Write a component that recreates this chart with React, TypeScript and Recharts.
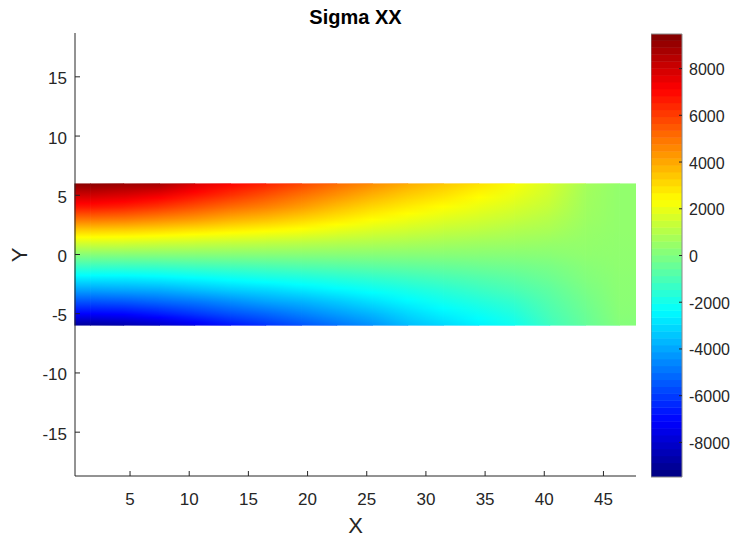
import React from 'react';
import { ScatterChart, Scatter, XAxis, YAxis, ReferenceArea } from 'recharts';

// axis ticks
const xTicks = [5, 10, 15, 20, 25, 30, 35, 40, 45];
const yTicks = [-15, -10, -5, 0, 5, 10, 15];
const cbarTicks = [-8000, -6000, -4000, -2000, 0, 2000, 4000, 6000, 8000];

// beam mesh: column edges along x, sample levels through the depth (top -> bottom)
const colEdges = [0.35, 3, 6, 9, 12, 15, 18, 21, 24, 27, 30, 33, 36, 39, 42, 45, 47.75];
const yLevels = [6, 5, 4, 3, 2, 1, 0, -1, -2, -3, -4, -5, -6];

// sigma xx, one array per column (top of beam first)
const sxxX1_5 = [9300, 8000, 6700, 5000, 3200, 1650, 150, -1300, -2700, -4100, -5600, -7100, -9000];
const sxxX4_5 = [9000, 7800, 6500, 4900, 3150, 1600, 150, -1300, -2700, -4000, -5500, -7000, -8700];
const sxxX7_5 = [8800, 7400, 6100, 4600, 3000, 1500, 150, -1250, -2600, -3900, -5200, -6600, -8200];
const sxxX10_5 = [7800, 6800, 5600, 4300, 2800, 1400, 150, -1150, -2400, -3600, -4900, -6100, -7500];
const sxxX13_5 = [7100, 6200, 5100, 3900, 2600, 1300, 150, -1050, -2200, -3300, -4500, -5600, -6800];
const sxxX16_5 = [6500, 5600, 4700, 3600, 2400, 1200, 150, -950, -2000, -3100, -4100, -5200, -6200];
const sxxX19_5 = [5800, 5000, 4200, 3200, 2200, 1100, 150, -850, -1850, -2800, -3800, -4700, -5600];
const sxxX22_5 = [5100, 4400, 3600, 2800, 1900, 1000, 150, -750, -1650, -2500, -3400, -4200, -5000];
const sxxX25_5 = [4500, 3800, 3100, 2400, 1650, 900, 150, -650, -1450, -2200, -2950, -3700, -4400];
const sxxX28_5 = [3900, 3300, 2700, 2100, 1450, 800, 150, -550, -1250, -1900, -2500, -3100, -3600];
const sxxX31_5 = [3400, 2900, 2350, 1800, 1250, 700, 150, -450, -1050, -1600, -2100, -2600, -3100];
const sxxX34_5 = [2900, 2450, 2000, 1550, 1100, 600, 150, -350, -850, -1300, -1750, -2200, -2600];
const sxxX37_5 = [2300, 2000, 1650, 1300, 900, 550, 150, -250, -650, -1000, -1400, -1750, -2100];
const sxxX40_5 = [1600, 1450, 1250, 1000, 750, 450, 200, -100, -350, -600, -800, -1000, -1200];
const sxxX43_5 = [700, 650, 600, 550, 450, 380, 300, 150, 50, -100, -250, -380, -500];
const sxxX46_5 = [350, 350, 350, 350, 350, 330, 300, 280, 260, 240, 220, 180, 100];

const columns = [
  sxxX1_5, sxxX4_5, sxxX7_5, sxxX10_5, sxxX13_5, sxxX16_5, sxxX19_5, sxxX22_5,
  sxxX25_5, sxxX28_5, sxxX31_5, sxxX34_5, sxxX37_5, sxxX40_5, sxxX43_5, sxxX46_5,
];

const C_MIN = -9480;
const C_MAX = 9480;
const AXIS = '#262626';
const FONT = '"Liberation Sans", Arial, Helvetica, sans-serif';

// jet colormap
function jetT(t: number) {
  const ch = (c: number) => Math.round(255 * Math.min(1, Math.max(0, 1.5 - Math.abs(4 * t - c))));
  return `rgb(${ch(3)},${ch(2)},${ch(1)})`;
}
function jet(v: number) {
  const t = Math.min(1, Math.max(0, (v - C_MIN) / (C_MAX - C_MIN)));
  return jetT(t);
}

const jetBreaks = [0.125, 0.375, 0.625, 0.875].map((t) => C_MIN + t * (C_MAX - C_MIN));

// gradient stops for a column, with extra stops where jet changes slope
function stopsFor(col: number[]) {
  const top = yLevels[0];
  const span = top - yLevels[yLevels.length - 1];
  const stops: { offset: number; color: string }[] = [];
  for (let i = 0; i < col.length; i++) {
    const off = (top - yLevels[i]) / span;
    stops.push({ offset: off, color: jet(col[i]) });
    if (i < col.length - 1) {
      const a = col[i];
      const b = col[i + 1];
      const offB = (top - yLevels[i + 1]) / span;
      jetBreaks
        .filter((v) => (v - a) * (v - b) < 0)
        .map((v) => ({ f: (v - a) / (b - a), v }))
        .sort((p, q) => p.f - q.f)
        .forEach((c) => stops.push({ offset: off + c.f * (offB - off), color: jet(c.v) }));
    }
  }
  return stops;
}

// 64 colour bands of the colour bar
const cbarBands = Array.from({ length: 64 }, (_, i) => {
  const step = (C_MAX - C_MIN) / 64;
  return { lo: C_MIN + i * step, hi: C_MIN + (i + 1) * step, color: jetT((i + 0.5) / 64) };
});

const colCentres = columns.map((_, i) => (colEdges[i] + colEdges[i + 1]) / 2);

// shaded pieces: each spans two column centres and fades from one column to the next
const n = columns.length;
const pieces = [
  { x1: colEdges[0], x2: colCentres[0], a: 0, b: 0 },
  ...colCentres.slice(0, -1).map((c, i) => ({ x1: c, x2: colCentres[i + 1], a: i, b: i + 1 })),
  { x1: colCentres[n - 1], x2: colEdges[n], a: n - 1, b: n - 1 },
];

const pieceShape = (a: number, b: number) => (p: any) => (
  <g>
    <rect x={p.x - 0.6} y={p.y} width={p.width + 0.6} height={p.height} fill={`url(#sxx-col-${a})`} />
    {a !== b && (
      <rect x={p.x - 0.6} y={p.y} width={p.width + 0.6} height={p.height} fill={`url(#sxx-col-${b})`} mask="url(#fade-lr)" />
    )}
  </g>
);

const XTick = (p: any) => (
  <g>
    <line x1={p.x} y1={p.y} x2={p.x} y2={p.y - 5} stroke={AXIS} />
    <text x={p.x} y={p.y + 23} textAnchor="middle" dominantBaseline="central" fontSize={17} fill={AXIS} fontFamily={FONT}>
      {p.payload.value}
    </text>
  </g>
);

const YTick = (p: any) => (
  <g>
    <line x1={p.x} y1={p.y} x2={p.x + 5} y2={p.y} stroke={AXIS} />
    <text x={p.x - 8} y={p.y + 2} textAnchor="end" dominantBaseline="central" fontSize={17} fill={AXIS} fontFamily={FONT}>
      {p.payload.value}
    </text>
  </g>
);

const CbarTick = (p: any) => (
  <g>
    <line x1={p.x} y1={p.y} x2={p.x - 3} y2={p.y} stroke={AXIS} />
    <text x={p.x + 7} y={p.y + 1} textAnchor="start" dominantBaseline="central" fontSize={16} fill={AXIS} fontFamily={FONT}>
      {p.payload.value}
    </text>
  </g>
);

export default function App() {
  return (
    <div style={{ position: 'absolute', left: 0, top: 0, width: 737, height: 539, background: '#fff' }}>
      <div style={{ position: 'absolute', left: 0, top: 0 }}>
        <ScatterChart width={737} height={539} margin={{ top: 33, right: 101, bottom: 0, left: 0 }}>
          <defs>
            {columns.map((col, i) => (
              <linearGradient key={i} id={`sxx-col-${i}`} x1="0" y1="0" x2="0" y2="1">
                {stopsFor(col).map((s, k) => (
                  <stop key={k} offset={s.offset} stopColor={s.color} />
                ))}
              </linearGradient>
            ))}
            <linearGradient id="fade-lr-grad" x1="0" y1="0" x2="1" y2="0">
              <stop offset="0" stopColor="#fff" stopOpacity={0} />
              <stop offset="1" stopColor="#fff" stopOpacity={1} />
            </linearGradient>
            <mask id="fade-lr" maskContentUnits="objectBoundingBox" style={{ maskType: 'alpha' } as any}>
              <rect x="0" y="0" width="1" height="1" fill="url(#fade-lr-grad)" />
            </mask>
          </defs>
          <XAxis
            type="number"
            dataKey="x"
            domain={[0.35, 47.75]}
            ticks={xTicks}
            allowDataOverflow
            height={63}
            stroke={AXIS}
            tickLine={false}
            tickSize={0}
            tickMargin={0}
            tick={XTick}
          />
          <YAxis
            type="number"
            dataKey="y"
            domain={[-18.7, 18.7]}
            ticks={yTicks}
            allowDataOverflow
            width={75}
            stroke={AXIS}
            tickLine={false}
            tickSize={0}
            tickMargin={0}
            tick={YTick}
          />
          {pieces.map((pc, i) => (
            <ReferenceArea
              key={i}
              x1={pc.x1}
              x2={pc.x2}
              y1={yLevels[yLevels.length - 1]}
              y2={yLevels[0]}
              ifOverflow="visible"
              shape={pieceShape(pc.a, pc.b)}
            />
          ))}
          <Scatter data={colCentres.map((x) => ({ x, y: 0 }))} shape={() => <g />} isAnimationActive={false} />
        </ScatterChart>
      </div>

      <div style={{ position: 'absolute', left: 651, top: 0 }}>
        <ScatterChart width={86} height={539} margin={{ top: 34, right: 0, bottom: 62, left: 0 }}>
          <XAxis type="number" dataKey="x" hide domain={[0, 1]} />
          <YAxis
            type="number"
            dataKey="y"
            orientation="right"
            domain={[C_MIN, C_MAX]}
            ticks={cbarTicks}
            allowDataOverflow
            width={55}
            axisLine={false}
            tickLine={false}
            tickSize={0}
            tickMargin={0}
            tick={CbarTick}
          />
          {cbarBands.map((b, i) => (
            <ReferenceArea key={i} y1={b.lo} y2={b.hi + 20} fill={b.color} fillOpacity={1} stroke="none" ifOverflow="hidden" />
          ))}
          <ReferenceArea y1={C_MIN} y2={C_MAX} fill="none" stroke="#8a8a8a" strokeWidth={1} />
          <Scatter data={[{ x: 0.5, y: 0 }]} shape={() => <g />} isAnimationActive={false} />
        </ScatterChart>
      </div>

      <svg width={737} height={539} style={{ position: 'absolute', left: 0, top: 0, pointerEvents: 'none' }}>
        <text x={355.5} y={24} textAnchor="middle" fontSize={20} fontWeight="bold" fill="#000" fontFamily={FONT}>
          Sigma XX
        </text>
        <text x={355.5} y={533} textAnchor="middle" fontSize={22} fill={AXIS} fontFamily={FONT}>
          X
        </text>
        <text
          x={19}
          y={255}
          textAnchor="middle"
          dominantBaseline="central"
          fontSize={22}
          fill={AXIS}
          fontFamily={FONT}
          transform="rotate(-90 19 255)"
        >
          Y
        </text>
      </svg>
    </div>
  );
}
